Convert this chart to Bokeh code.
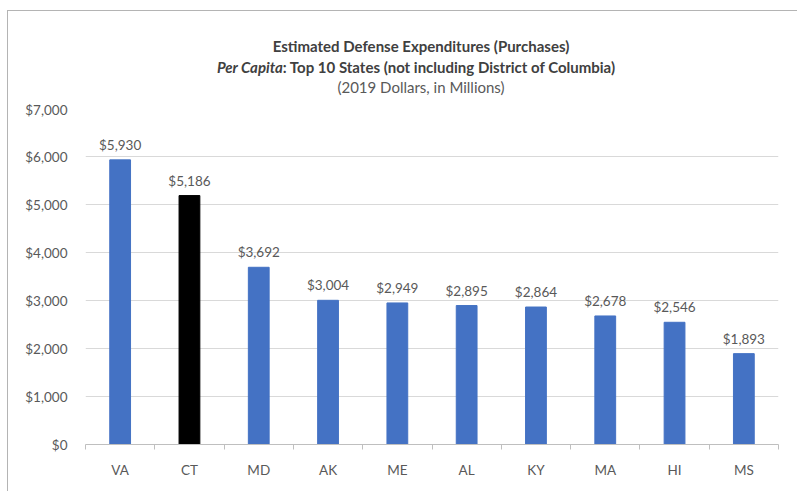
from bokeh.plotting import figure
from bokeh.models import (ColumnDataSource, LabelSet, FixedTicker,
                          NumeralTickFormatter, Div)
from bokeh.layouts import column
from bokeh.core.properties import value
from bokeh.embed import file_html
from bokeh.resources import INLINE

states = ["VA", "CT", "MD", "AK", "ME", "AL", "KY", "MA", "HI", "MS"]
values = [5930, 5186, 3692, 3004, 2949, 2895, 2864, 2678, 2546, 1893]
colors = ["#4472C4", "#000000", "#4472C4", "#4472C4", "#4472C4",
          "#4472C4", "#4472C4", "#4472C4", "#4472C4", "#4472C4"]
y_ticks = [0, 1000, 2000, 3000, 4000, 5000, 6000, 7000]

title_1 = "Estimated Defense Expenditures (Purchases)"
title_2a = "Per Capita"
title_2b = ": Top 10 States (not including District of Columbia)"
title_3 = "(2019 Dollars, in Millions)"

FONT = "Lato"
GRAY = "#595959"
TC = "#404040"
FS = "13.5px"

# page-pixel layout
FL, FR, FT, FB = 85, 778, 108, 444   # plot frame
OX, OY = 7, 10                       # outer chart box offset
B = 1                                # box border width
HEAD = 90                            # height of the title block

xpos = [i + 0.5 for i in range(len(states))]
src = ColumnDataSource(dict(
    x=xpos, v=values, c=colors,
    lab=["${:,}".format(v) for v in values],
))

top0 = OY + B + HEAD
p = figure(width=797 - OX - B, height=491 - top0, output_backend="svg",
           toolbar_location=None,
           x_range=(0, len(states)), y_range=(0, 7000),
           min_border_left=FL - OX - B, min_border_right=797 - FR,
           min_border_top=FT - top0, min_border_bottom=491 - FB)
p.outline_line_color = None
p.background_fill_color = "white"
p.border_fill_color = "white"

p.vbar(x="x", top="v", width=0.3, color="c", source=src)

p.add_layout(LabelSet(x="x", y="v", text="lab", source=src, y_offset=7,
                      text_align="center", text_baseline="bottom",
                      text_font=value(FONT), text_font_size=FS,
                      text_color=GRAY))

p.xgrid.visible = False
p.ygrid.grid_line_color = "#d9d9d9"
p.ygrid.ticker = FixedTicker(ticks=y_ticks)

xa = p.xaxis[0]
xa.ticker = FixedTicker(ticks=xpos, minor_ticks=list(range(len(states) + 1)))
xa.major_label_overrides = {x: s for x, s in zip(xpos, states)}
xa.major_tick_line_color = None
xa.major_tick_out = 0
xa.major_tick_in = 0
xa.minor_tick_line_color = "#bfbfbf"
xa.minor_tick_out = 5
xa.minor_tick_in = 0
xa.axis_line_color = "#bfbfbf"
xa.major_label_standoff = 12
xa.major_label_text_font = FONT
xa.major_label_text_font_size = FS
xa.major_label_text_color = GRAY

ya = p.yaxis[0]
ya.ticker = FixedTicker(ticks=y_ticks)
ya.formatter = NumeralTickFormatter(format="$0,0")
ya.axis_line_color = None
ya.major_tick_line_color = None
ya.minor_tick_line_color = None
ya.major_label_standoff = 12
ya.major_label_text_font = FONT
ya.major_label_text_font_size = FS
ya.major_label_text_color = GRAY

html = (
    f'<div style="width:700px; margin-left:63px; padding-top:25px; '
    f'text-align:center; font-family:{FONT}; font-size:15px; '
    f'line-height:20.5px; color:{TC};">'
    f'<div style="font-weight:bold;">{title_1}</div>'
    f'<div style="font-weight:bold; margin-left:-10px;"><i>{title_2a}</i>{title_2b}</div>'
    f'<div style="color:{GRAY};">{title_3}</div>'
    f'</div>'
)
head = Div(text=html, width=797 - OX - B, height=HEAD, margin=0)

layout = column(head, p, spacing=0)
layout.margin = (OY, 0, 0, OX)
layout.styles = {"border-left": f"{B}px solid #b4b4b4",
                 "border-top": f"{B}px solid #b4b4b4",
                 "background-color": "white"}

open("out.html", "w").write(file_html(layout, INLINE))
